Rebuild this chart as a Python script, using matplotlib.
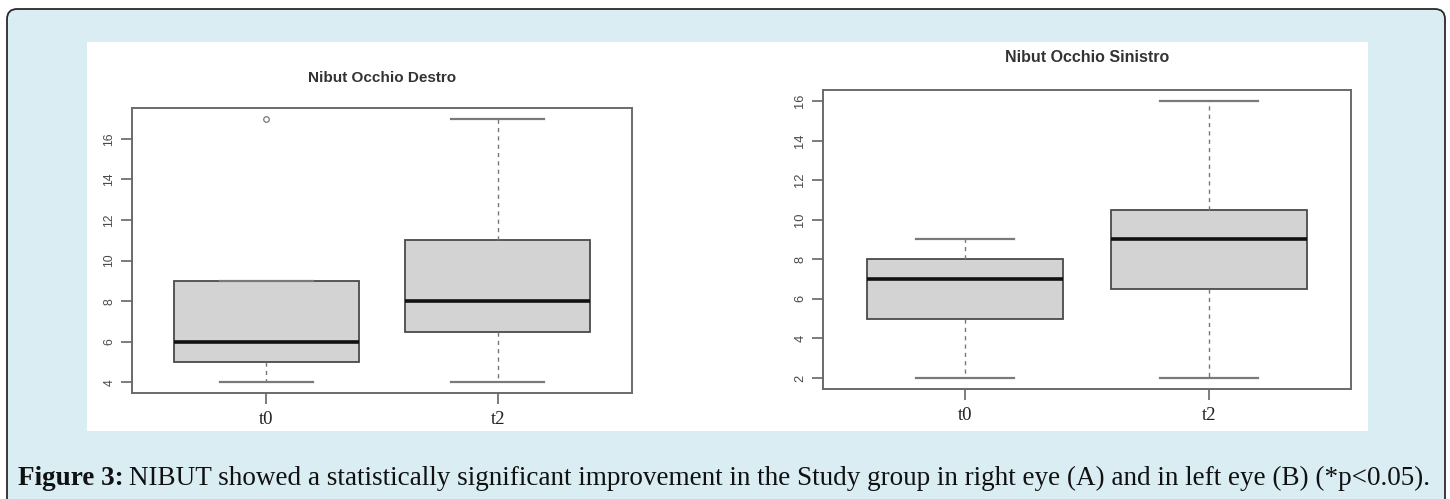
import matplotlib
matplotlib.use("Agg")
import matplotlib.pyplot as plt
from matplotlib.patches import FancyBboxPatch, Rectangle

# box statistics
groups = ["t0", "t2"]

right_title = "Nibut Occhio Destro"
right_low = [4, 4]
right_q1 = [5, 6.5]
right_med = [6, 8]
right_q3 = [9, 11]
right_high = [9, 17]
right_out = [[17], []]
right_ticks = [4, 6, 8, 10, 12, 14, 16]

left_title = "Nibut Occhio Sinistro"
left_low = [2, 2]
left_q1 = [5, 6.5]
left_med = [7, 9]
left_q3 = [8, 10.5]
left_high = [9, 16]
left_out = [[], []]
left_ticks = [2, 4, 6, 8, 10, 12, 14, 16]

caption_bold = "Figure 3:"
caption_rest = ("NIBUT showed a statistically significant improvement in the Study group "
                "in right eye (A) and in left eye (B) (*p<0.05).")

W, H = 1450, 499
fig = plt.figure(figsize=(W / 100, H / 100), dpi=100, facecolor="white")

# light blue rounded frame and white picture panel (pixel coords, origin bottom left)
def px(x, y):
    return x / W, 1 - y / H

frame = FancyBboxPatch((7 / W, -0.1), (1445 - 7) / W, (H - 9) / H + 0.1,
                       boxstyle="round,pad=0,rounding_size=0.007",
                       transform=fig.transFigure, facecolor="#d9edf2",
                       edgecolor="#2a2a2a", linewidth=1.3, mutation_aspect=W / H,
                       zorder=-3)
fig.patches.append(frame)
panel = Rectangle(px(87, 431), (1368 - 87) / W, (431 - 42) / H,
                  transform=fig.transFigure, facecolor="white", edgecolor="none",
                  zorder=-2)
fig.patches.append(panel)


def draw(rect, title, low, q1, med, q3, high, out, ticks, title_y, scale):
    ax = fig.add_axes(rect)
    ax.set_facecolor("white")
    stats = []
    for i in range(len(groups)):
        stats.append(dict(whislo=low[i], q1=q1[i], med=med[i], q3=q3[i],
                          whishi=high[i], fliers=out[i], label=groups[i]))
    ax.bxp(stats, positions=[1, 2], widths=0.8, capwidths=0.4, patch_artist=True,
           boxprops=dict(facecolor="#d3d3d3", edgecolor="#4a4a4a", linewidth=1.3),
           medianprops=dict(color="#111111", linewidth=2.6, solid_capstyle="butt"),
           whiskerprops=dict(color="#777777", linewidth=1.0, linestyle=(0, (3, 3))),
           capprops=dict(color="#7a7a7a", linewidth=1.6),
           flierprops=dict(marker="o", markerfacecolor="none", markeredgecolor="#777777",
                           markersize=4, markeredgewidth=0.9))
    lo = min(low + [v for o in out for v in o])
    hi = max(high + [v for o in out for v in o])
    pad = (hi - lo) * 0.04
    ax.set_ylim(lo - pad, hi + pad)
    ax.set_xlim(0.42, 2.58)
    ax.set_yticks(ticks)
    ax.set_yticklabels([str(t) for t in ticks], rotation=90, va="center",
                       fontsize=8.8 * scale, color="#4a4a4a", family="Liberation Sans")
    ax.set_xticks([1, 2])
    ax.set_xticklabels(groups, fontsize=13.5, color="#222222", family="Liberation Serif")
    ax.tick_params(axis="both", direction="out", length=8, width=1.2, color="#666666")
    ax.tick_params(axis="y", pad=4)
    ax.tick_params(axis="x", pad=5)
    for s in ax.spines.values():
        s.set_color("#6a6a6a")
        s.set_linewidth(1.4)
    cx = rect[0] + rect[2] / 2
    fig.text(cx, title_y, title, ha="center", va="center", fontsize=11 * scale,
             fontweight="bold", color="#333333", family="Liberation Sans")
    return ax


draw([132 / W, (H - 393) / H, 500 / W, 285 / H], right_title, right_low, right_q1,
     right_med, right_q3, right_high, right_out, right_ticks, 1 - 78 / H, 1.0)
draw([823 / W, (H - 389) / H, 528 / W, 299 / H], left_title, left_low, left_q1,
     left_med, left_q3, left_high, left_out, left_ticks, 1 - 58 / H, 1.05)

# caption: bold lead-in followed by regular text
cap = fig.add_axes([0, 0, 1, 1], facecolor="none")
cap.set_axis_off()
t1 = cap.text(18 / W, 1 - 485 / H, caption_bold, fontsize=19.5, fontweight="bold",
              family="Liberation Serif", color="#111111", va="baseline")
cap.annotate(caption_rest, xy=(1, 0), xycoords=t1, xytext=(4, 0),
             textcoords="offset points", fontsize=19.5, family="Liberation Serif",
             color="#111111", va="bottom")

fig.savefig("out.png", dpi=100, facecolor="white")
